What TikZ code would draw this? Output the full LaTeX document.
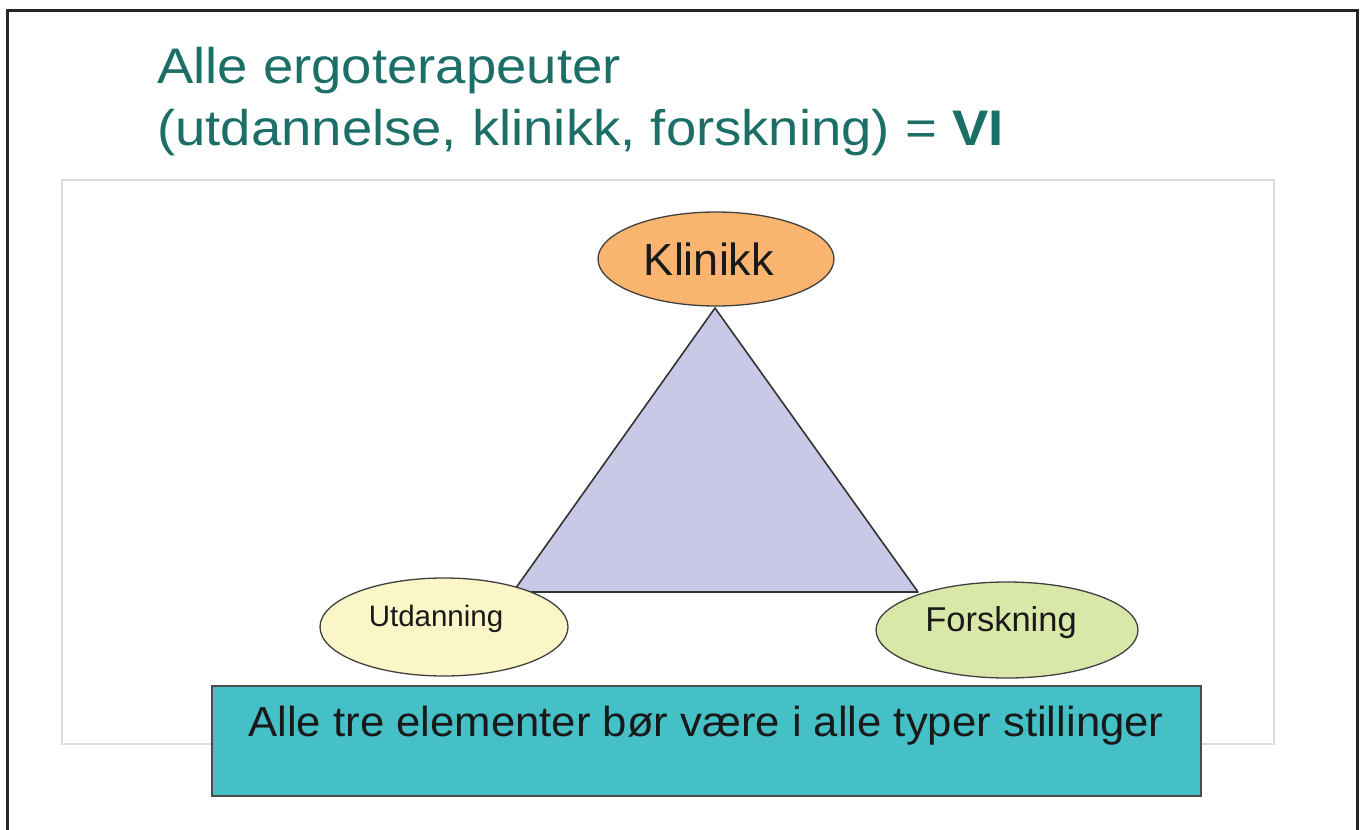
\documentclass[tikz,border=0pt]{standalone}
\usepackage{fontspec}
\setmainfont{Liberation Sans}
\usetikzlibrary{shapes.geometric}
\definecolor{titlecol}{HTML}{1B6F67}
\definecolor{klin}{HTML}{F9B56F}
\definecolor{utd}{HTML}{FBF6C8}
\definecolor{forsk}{HTML}{D9E7A9}
\definecolor{tri}{HTML}{C9C8E6}
\definecolor{boxcol}{HTML}{46C0C7}
\definecolor{framegray}{HTML}{DCDCDC}
\tikzset{
  oval/.style={ellipse, draw=black!75, line width=1.3pt, inner sep=0pt},
  lbl/.style={font=\fontsize{#1}{#1}\selectfont, text=black!90},
  ttl/.style={anchor=base west, text=titlecol, font=\fontsize{50}{50}\selectfont, inner sep=0pt, xscale=1.09},
}
\begin{document}
\begin{tikzpicture}[x=1pt,y=-1pt]
\useasboundingbox (0,0) rectangle (1361,830);
\fill[white] (0,0) rectangle (1361,830);
% outer frame (open at bottom)
\draw[line width=3pt, black!85] (7,830) -- (7,10) -- (1357,10) -- (1357,830);
% inner light frame
\draw[framegray, line width=1.5pt] (62,180) rectangle (1274,744);
% title
\node[ttl] (t1) at (157,83) {Alle ergoterapeuter};
\node[ttl] (t2) at (157,145) {(utdannelse, klinikk, forskning) = \textbf{VI}};
% triangle
\coordinate (A) at (715,308);
\coordinate (B) at (513,592);
\coordinate (C) at (918,592);
\filldraw[fill=tri, draw=black!80, line width=1.6pt, line join=round] (A) -- (B) -- (C) -- cycle;
% ellipses
\node[oval, fill=klin, minimum width=236pt, minimum height=94pt] (kl) at (716,259) {};
\node[lbl=45] (klt) at ([xshift=-7pt]kl.center) {Klinikk};
\node[oval, fill=utd, minimum width=248pt, minimum height=98pt] (ut) at (444,627) {};
\node[lbl=29.5] (utt) at ([xshift=-8pt,yshift=8pt]ut.center) {Utdanning};
\node[oval, fill=forsk, minimum width=262pt, minimum height=96pt] (fo) at (1007,630) {};
\node[lbl=34.5] (fot) at ([xshift=-6pt,yshift=7pt]fo.center) {Forskning};
% bottom box
\node[draw=black!70, fill=boxcol, line width=1.8pt, minimum width=989pt, minimum height=110pt, inner sep=0pt] (bx) at (706.5,741) {};
\node[anchor=base, lbl=42, xscale=1.04] (bt) at (706,736) {Alle tre elementer bør være i alle typer stillinger};
\end{tikzpicture}
\end{document}
